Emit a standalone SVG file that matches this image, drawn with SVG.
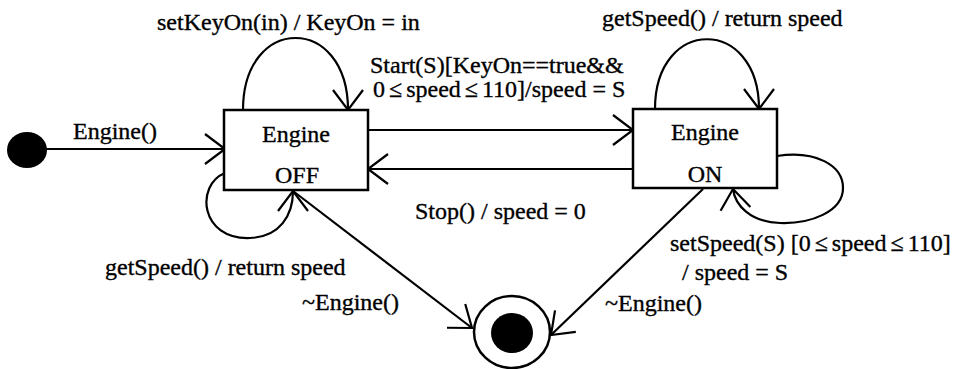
<svg xmlns="http://www.w3.org/2000/svg" width="962" height="369" viewBox="0 0 962 369">
  <style>
    text { font-family: "Liberation Serif", "Times New Roman", serif; font-size: 24px; fill: #000; stroke: #000; stroke-width: 0.35; }
    .mid { text-anchor: middle; }
    .state { fill: #fff; stroke: #000; stroke-width: 2.5; }
    .edge { fill: none; stroke: #000; stroke-width: 2.2; }
    .dot { fill: #000; }
  </style>
  <defs>
    <marker id="arrow" markerUnits="userSpaceOnUse" markerWidth="30" markerHeight="36" viewBox="-24 -18 30 36" refX="0" refY="0" orient="auto">
      <path d="M -20 -15 L 0 0 L -20 15" fill="none" stroke="#000" stroke-width="2.2"/>
    </marker>
  </defs>

  <rect width="962" height="369" fill="#fff"/>

  <!-- connectors -->
  <g id="connectors">
    <path class="edge" d="M 46 149 L 225 149" marker-end="url(#arrow)"/>
    <path class="edge" d="M 243 110 C 243 14, 348 14, 348 110" marker-end="url(#arrow)"/>
    <path class="edge" d="M 225 173 C 195 185, 200 240, 250 238 C 280 237, 293 215, 293 191" marker-end="url(#arrow)"/>
    <path class="edge" d="M 368 130 L 633 130" marker-end="url(#arrow)"/>
    <path class="edge" d="M 633 169 L 368 169" marker-end="url(#arrow)"/>
    <path class="edge" d="M 655 109 C 655 16, 759 16, 759 109" marker-end="url(#arrow)"/>
    <path class="edge" d="M 777 156 C 815 150, 843 165, 843 188 C 843 212, 810 224, 780 223 C 750 222, 735 205, 733 189" marker-end="url(#arrow)"/>
    <path class="edge" d="M 293 191 L 472 328" marker-end="url(#arrow)"/>
    <path class="edge" d="M 703 189 L 551 335" marker-end="url(#arrow)"/>

    <text x="73" y="139">Engine()</text>
    <text x="157" y="30">setKeyOn(in) / KeyOn = in</text>
    <text x="370" y="73">Start(S)[KeyOn==true&amp;&amp;</text>
    <text x="373" y="97">0<tspan dx="4">≤</tspan><tspan dx="4">speed</tspan><tspan dx="4">≤</tspan><tspan dx="4">110]/speed = S</tspan></text>
    <text x="602" y="26">getSpeed() / return speed</text>
    <text x="415" y="219">Stop() / speed = 0</text>
    <text x="105" y="275">getSpeed() / return speed</text>
    <text x="302" y="310">~Engine()</text>
    <text x="670" y="251">setSpeed(S) [0<tspan dx="4">≤</tspan><tspan dx="4">speed</tspan><tspan dx="4">≤</tspan><tspan dx="4">110]</tspan></text>
    <text x="682" y="280">/ speed = S</text>
    <text x="605" y="311">~Engine()</text>
  </g>

  <!-- initial pseudo-state -->
  <g id="initial">
    <ellipse class="dot" cx="27" cy="150" rx="20" ry="18"/>
  </g>

  <!-- Engine OFF -->
  <g id="engine-off">
    <rect class="state" x="224" y="110" width="144" height="80"/>
    <text class="mid" x="296" y="142">Engine</text>
    <text class="mid" x="297" y="183">OFF</text>
  </g>

  <!-- Engine ON -->
  <g id="engine-on">
    <rect class="state" x="633" y="109" width="144" height="79"/>
    <text class="mid" x="705" y="140">Engine</text>
    <text class="mid" x="705" y="182">ON</text>
  </g>

  <!-- final state -->
  <g id="final">
    <ellipse cx="512" cy="332" rx="38" ry="36" fill="#fff" stroke="#000" stroke-width="2.5"/>
    <ellipse class="dot" cx="512" cy="333" rx="21" ry="20"/>
  </g>
</svg>
